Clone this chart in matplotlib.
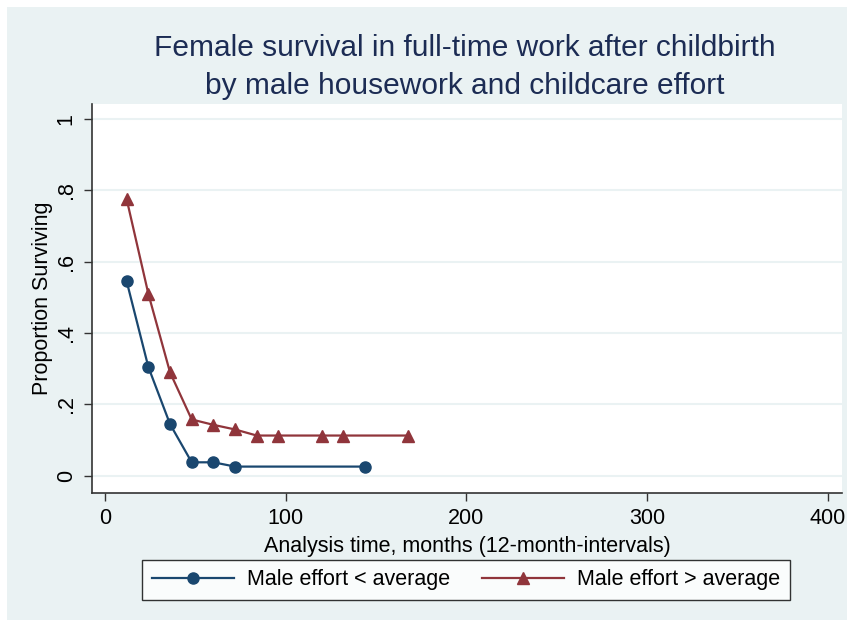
import matplotlib
matplotlib.use("Agg")
import matplotlib.pyplot as plt
from matplotlib.patches import Rectangle

plt.rcParams['font.family'] = ['Liberation Sans', 'DejaVu Sans']

# Kaplan-Meier style survival estimates, 12-month intervals
months_low = [12, 24, 36, 48, 60, 72, 144]
surv_low = [0.545, 0.305, 0.145, 0.038, 0.038, 0.026, 0.026]

months_high = [12, 24, 36, 48, 60, 72, 84, 96, 120, 132, 168]
surv_high = [0.775, 0.51, 0.29, 0.158, 0.143, 0.13, 0.113, 0.113, 0.113, 0.113, 0.113]

labels = ['Male effort < average', 'Male effort > average']
xticks = [0, 100, 200, 300, 400]
yticks = [0, 0.2, 0.4, 0.6, 0.8, 1.0]
ytick_labels = ['0', '.2', '.4', '.6', '.8', '1']

bg = '#EAF2F3'
navy = '#1A476F'
maroon = '#90353B'

fig = plt.figure(figsize=(8.54, 6.25), dpi=100)
fig.patch.set_facecolor('white')
fig.patches.append(Rectangle((7 / 854, 5 / 625), 840 / 854, 613 / 625,
                             transform=fig.transFigure, facecolor=bg,
                             edgecolor='none', zorder=-10))

ax = fig.add_axes([92 / 854, 1 - 493 / 625, 750 / 854, 389 / 625])
ax.set_facecolor('white')

ax.plot(months_low, surv_low, color=navy, lw=1.6, marker='o', ms=8,
        label=labels[0])
ax.plot(months_high, surv_high, color=maroon, lw=1.6, marker='^', ms=9,
        label=labels[1])

ax.set_xlim(-7.2, 408)
ax.set_ylim(-0.048, 1.042)
ax.set_xticks(xticks)
ax.set_yticks(yticks)
ax.set_yticklabels(ytick_labels, rotation=90, va='center')
ax.tick_params(axis='both', labelsize=15.5, length=6, width=1, color='#333333',
               labelcolor='black', pad=5)
ax.yaxis.grid(True, color=bg, lw=1.5)
ax.set_axisbelow(True)
for side in ['top', 'right']:
    ax.spines[side].set_visible(False)
for side in ['left', 'bottom']:
    ax.spines[side].set_color('#333333')
    ax.spines[side].set_linewidth(1.2)

ax.set_xlabel('Analysis time, months (12-month-intervals)', fontsize=15.5, labelpad=5)
ax.set_ylabel('Proportion Surviving', fontsize=15.5, labelpad=2)

fig.text(465 / 854, 1 - 67 / 625,
         'Female survival in full-time work after childbirth\n'
         'by male housework and childcare effort',
         ha='center', va='center', fontsize=21.5, color='#1C2C54', linespacing=1.45)

leg = fig.legend(loc='center', bbox_to_anchor=(466 / 854, 1 - 580 / 625), ncol=2,
                 fontsize=15.5, frameon=True, fancybox=False, edgecolor='black',
                 borderpad=0.45, columnspacing=1.5, handlelength=3.8,
                 handletextpad=0.6, borderaxespad=0)
leg.get_frame().set_linewidth(1)

fig.savefig('out.png', dpi=100)
